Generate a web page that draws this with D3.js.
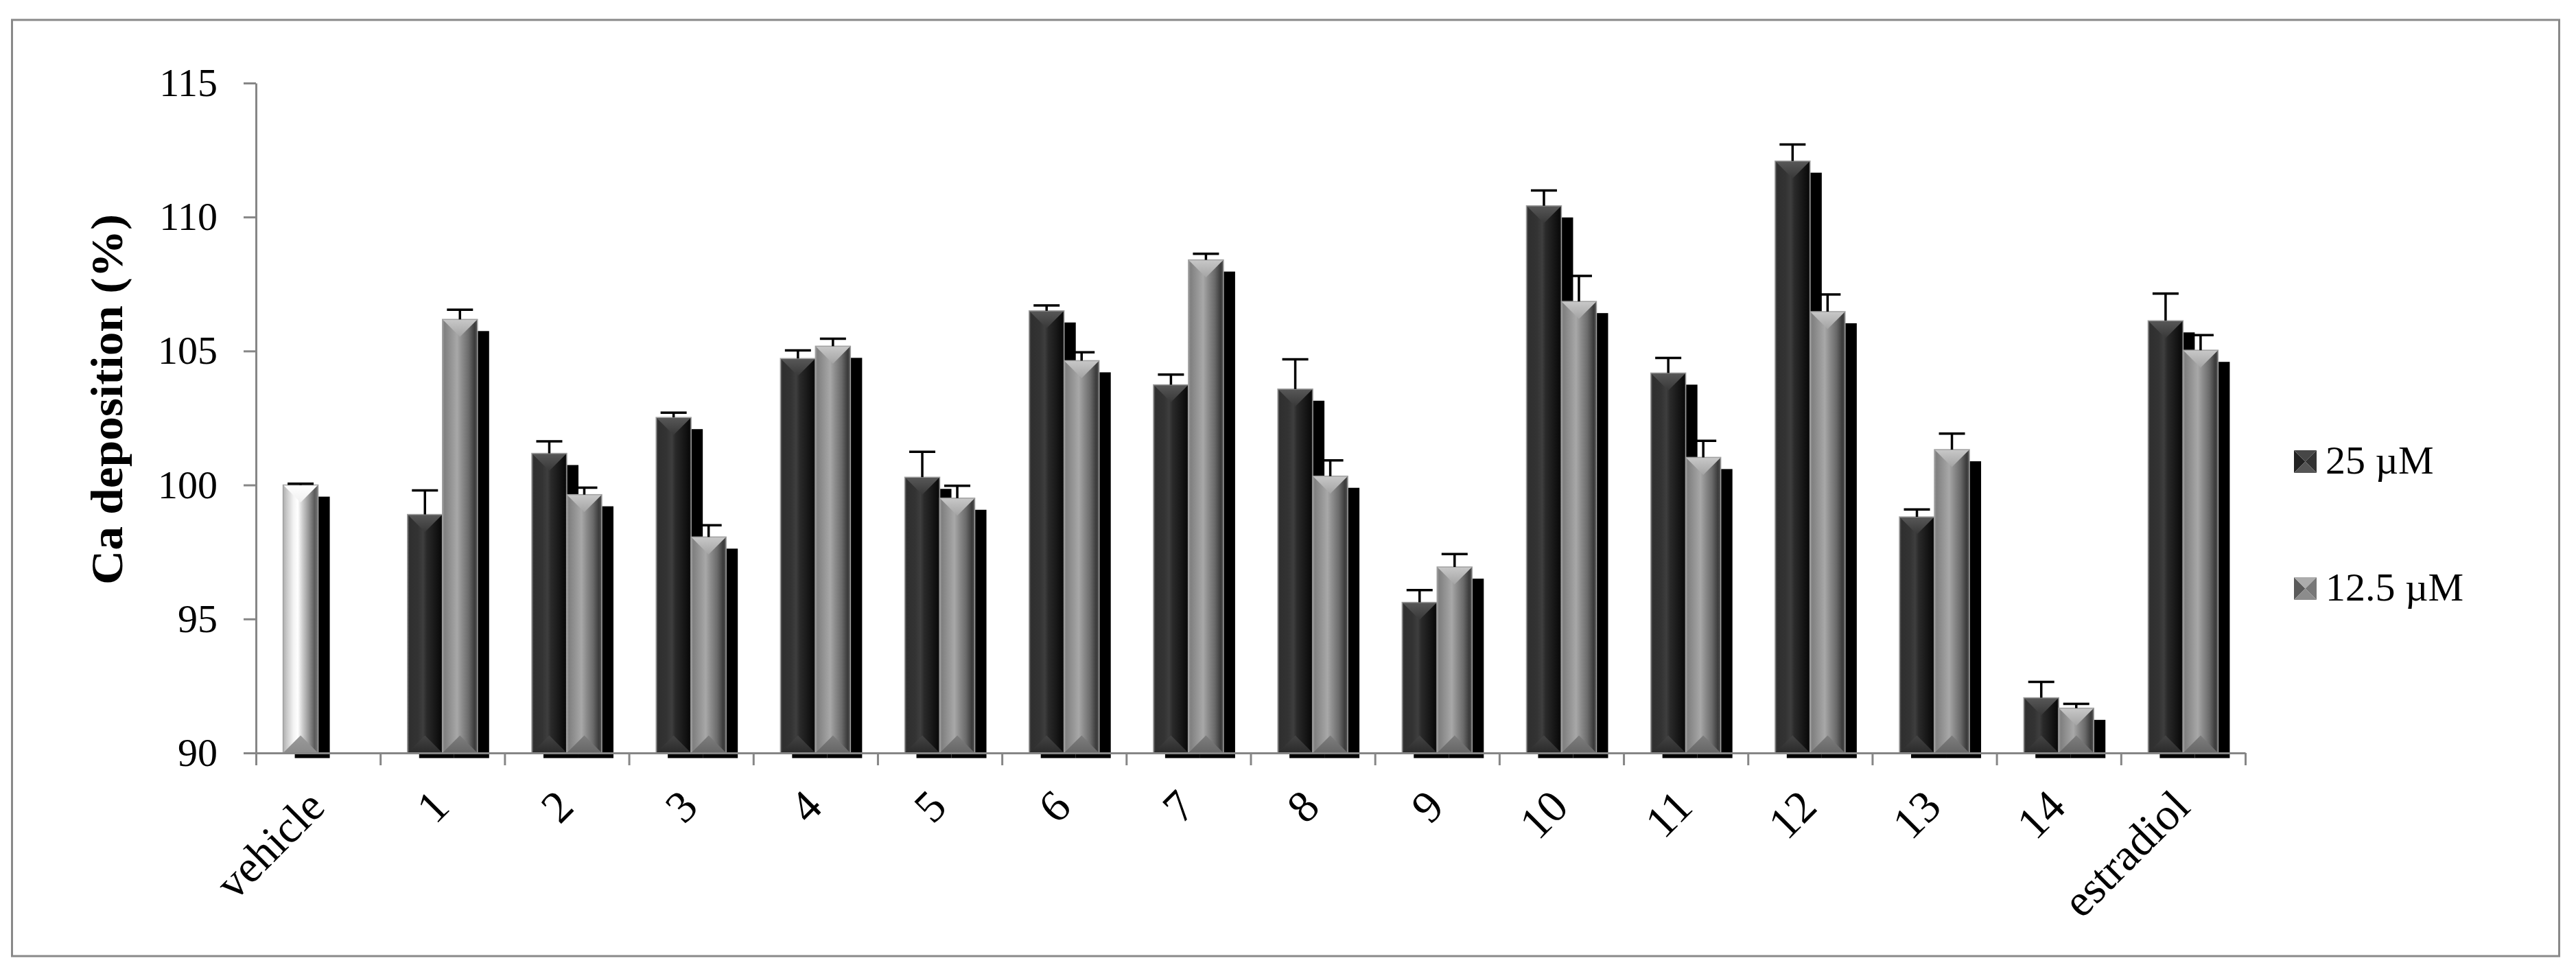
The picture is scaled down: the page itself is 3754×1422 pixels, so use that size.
<!DOCTYPE html>
<html>
<head>
<meta charset="utf-8">
<script src="https://cdn.jsdelivr.net/npm/d3@7"></script>
<style>
  body { margin: 0; background: #fff; }
  text { font-family: "Liberation Serif", "Times New Roman", serif; fill: #000; }
</style>
</head>
<body>
<script>
// Data
var categories = ["vehicle", "1", "2", "3", "4", "5", "6", "7", "8", "9", "10", "11", "12", "13", "14", "estradiol"];
var seriesNames = ["25 µM", "12.5 µM"];
var conc25 = [100.0, 98.9, 101.18, 102.52, 104.72, 100.29, 106.5, 103.74, 103.58, 95.62, 110.42, 104.18, 112.09, 98.81, 92.06, 106.13];
var err25 = [0.05, 0.9, 0.45, 0.18, 0.3, 0.95, 0.2, 0.38, 1.11, 0.46, 0.57, 0.56, 0.62, 0.28, 0.59, 1.01];
var conc12 = [null, 106.18, 99.64, 98.06, 105.18, 99.51, 104.64, 108.4, 100.33, 96.94, 106.85, 101.03, 106.47, 101.32, 91.67, 105.03];
var err12 = [null, 0.36, 0.26, 0.44, 0.28, 0.46, 0.31, 0.23, 0.59, 0.48, 0.95, 0.62, 0.64, 0.6, 0.16, 0.56];
var yTicks = [90, 95, 100, 105, 110, 115];

var width = 3754, height = 1422;
// plot area edges (window.top is reserved, so no plain "top")
var plotL = 373, plotR = 3272, plotT = 121, plotB = 1097;

var svg = d3.select("body").append("svg")
    .attr("width", width)
    .attr("height", height);

// outer chart frame
svg.append("rect")
    .attr("x", 17.5).attr("y", 29)
    .attr("width", 3712).attr("height", 1364)
    .attr("fill", "#fff")
    .attr("stroke", "#898989")
    .attr("stroke-width", 3);

var x = d3.scaleBand().domain(categories).range([plotL, plotR]).paddingInner(0);
var xs = d3.scaleBand().domain([0, 1]).range([0, x.bandwidth()]).paddingOuter(0.776).paddingInner(0);
var y = d3.scaleLinear().domain([90, 115]).range([plotB, plotT]);

// gradients for the bevelled bars
var defs = svg.append("defs");
function hGrad(id, stops) {
    var g = defs.append("linearGradient").attr("id", id)
        .attr("x1", "0%").attr("x2", "100%").attr("y1", "0%").attr("y2", "0%");
    stops.forEach(function (s) {
        g.append("stop").attr("offset", s[0]).attr("stop-color", s[1]);
    });
}
function vGrad(id, stops) {
    var g = defs.append("linearGradient").attr("id", id)
        .attr("x1", "0%").attr("x2", "0%").attr("y1", "0%").attr("y2", "100%");
    stops.forEach(function (s) {
        g.append("stop").attr("offset", s[0]).attr("stop-color", s[1]);
    });
}
hGrad("gDark", [[0, "#5a5a5a"], [0.06, "#2f2f2f"], [0.3, "#333"], [0.45, "#3e3e3e"], [0.55, "#2a2a2a"], [0.8, "#161616"], [0.95, "#0a0a0a"], [1, "#2a2a2a"]]);
hGrad("gGray", [[0, "#9a9a9a"], [0.06, "#808080"], [0.25, "#959595"], [0.42, "#a8a8a8"], [0.55, "#8e8e8e"], [0.75, "#6a6a6a"], [0.92, "#3a3a3a"], [1, "#555"]]);
hGrad("gVeh", [[0, "#b0b0b0"], [0.1, "#c8c8c8"], [0.3, "#f4f4f4"], [0.42, "#fff"], [0.55, "#cfcfcf"], [0.72, "#9a9a9a"], [0.9, "#5a5a5a"], [1, "#777"]]);
vGrad("tDark", [[0, "#585858"], [1, "#383838"]]);
vGrad("tGray", [[0, "#c8c8c8"], [1, "#a4a4a4"]]);
vGrad("tVeh", [[0, "#fff"], [1, "#f0f0f0"]]);
vGrad("bDark", [[0, "#444"], [1, "#2a2a2a"]]);
vGrad("bGray", [[0, "#7e7e7e"], [1, "#666"]]);
vGrad("bVeh", [[0, "#9a9a9a"], [1, "#8a8a8a"]]);

// flatten into bar records
var bars = [];
categories.forEach(function (c, i) {
    [conc25, conc12].forEach(function (arr, s) {
        var v = arr[i];
        if (v == null) return;
        var e = s === 0 ? err25[i] : err12[i];
        var kind = i === 0 ? "Veh" : (s === 0 ? "Dark" : "Gray");
        bars.push({cat: c, s: s, v: v, e: e, kind: kind});
    });
});

var bw = xs.bandwidth();
var off = 17;

svg.append("clipPath").attr("id", "shadowClip")
    .append("rect").attr("x", 0).attr("y", 0).attr("width", width).attr("height", plotB + 7.5);

// drop shadows behind every bar
svg.append("g").attr("clip-path", "url(#shadowClip)")
    .selectAll("rect")
    .data(bars)
    .enter()
    .append("rect")
    .attr("x", function (d) { return x(d.cat) + xs(d.s) + off; })
    .attr("y", function (d) { return y(d.v) + off; })
    .attr("width", bw)
    .attr("height", function (d) { return plotB - y(d.v); })
    .attr("fill", "#000");

var bar = svg.append("g").selectAll("g")
    .data(bars)
    .enter()
    .append("g")
    .attr("transform", function (d) { return "translate(" + (x(d.cat) + xs(d.s)) + ",0)"; });

bar.append("rect")
    .attr("x", 0)
    .attr("y", function (d) { return y(d.v); })
    .attr("width", bw)
    .attr("height", function (d) { return plotB - y(d.v); })
    .attr("fill", function (d) { return "url(#g" + d.kind + ")"; });

// top bevel facet
bar.append("path")
    .attr("d", function (d) {
        var t = y(d.v), h = Math.min(bw * 0.5, (plotB - t) / 2);
        return "M0," + t + "L" + bw + "," + t + "L" + bw / 2 + "," + (t + h) + "Z";
    })
    .attr("fill", function (d) { return "url(#t" + d.kind + ")"; });

// bottom bevel facet
bar.append("path")
    .attr("d", function (d) {
        var t = y(d.v), h = Math.min(bw * 0.5, (plotB - t) / 2);
        return "M0," + plotB + "L" + bw + "," + plotB + "L" + bw / 2 + "," + (plotB - h) + "Z";
    })
    .attr("fill", function (d) { return "url(#b" + d.kind + ")"; });

bar.append("rect")
    .attr("x", 0)
    .attr("y", function (d) { return y(d.v); })
    .attr("width", bw)
    .attr("height", function (d) { return plotB - y(d.v); })
    .attr("fill", "none")
    .attr("stroke", "#a0a0a0")
    .attr("stroke-width", 1.5);

// error bars (upper only)
var eb = svg.append("g").attr("stroke", "#000").attr("stroke-width", 3.5);
eb.selectAll("line.stem")
    .data(bars)
    .enter()
    .append("line")
    .attr("class", "stem")
    .attr("x1", function (d) { return x(d.cat) + xs(d.s) + bw / 2; })
    .attr("x2", function (d) { return x(d.cat) + xs(d.s) + bw / 2; })
    .attr("y1", function (d) { return y(d.v); })
    .attr("y2", function (d) { return y(d.v + d.e); });
eb.selectAll("line.cap")
    .data(bars)
    .enter()
    .append("line")
    .attr("class", "cap")
    .attr("x1", function (d) { return x(d.cat) + xs(d.s) + bw / 2 - 19; })
    .attr("x2", function (d) { return x(d.cat) + xs(d.s) + bw / 2 + 19; })
    .attr("y1", function (d) { return y(d.v + d.e); })
    .attr("y2", function (d) { return y(d.v + d.e); });

// y axis
var yAxis = svg.append("g")
    .attr("transform", "translate(" + plotL + ",0)")
    .call(d3.axisLeft(y).tickValues(yTicks).tickSize(18).tickSizeOuter(0).tickPadding(38));
yAxis.selectAll("path, line").attr("stroke", "#868686").attr("stroke-width", 3);
yAxis.selectAll("text")
    .style("font-family", "'Liberation Serif', 'Times New Roman', serif")
    .style("font-size", "58px")
    .attr("fill", "#000");

// x axis: ticks between categories
var xb = d3.scaleLinear().domain([0, categories.length]).range([plotL, plotR]);
var xAxisTicks = svg.append("g")
    .attr("transform", "translate(0," + plotB + ")")
    .call(d3.axisBottom(xb).tickValues(d3.range(categories.length + 1)).tickSize(18).tickSizeOuter(0).tickFormat(""));
xAxisTicks.selectAll("path, line").attr("stroke", "#868686").attr("stroke-width", 3);

// category labels, rotated
var xAxis = svg.append("g")
    .attr("transform", "translate(0," + plotB + ")")
    .call(d3.axisBottom(x).tickSize(0));
xAxis.select(".domain").remove();
xAxis.selectAll("text")
    .attr("x", 0).attr("y", 0).attr("dy", null)
    .attr("text-anchor", "end")
    .attr("transform", "translate(13,82) rotate(-45)")
    .style("font-family", "'Liberation Serif', 'Times New Roman', serif")
    .style("font-size", "66px")
    .attr("fill", "#000");

// y axis title
svg.append("text")
    .attr("transform", "translate(178,582) rotate(-90)")
    .attr("text-anchor", "middle")
    .attr("textLength", 540)
    .attr("lengthAdjust", "spacingAndGlyphs")
    .style("font-size", "66px")
    .style("font-weight", "bold")
    .text("Ca deposition (%)");

// legend
var legendY = [656, 841];
var legendCols = [
    {l: "#222", t: "#474747", r: "#333", b: "#555"},
    {l: "#5a5a5a", t: "#acacac", r: "#777", b: "#8c8c8c"}
];
var lg = svg.append("g").selectAll("g")
    .data(seriesNames)
    .enter()
    .append("g")
    .attr("transform", function (d, i) { return "translate(3343," + legendY[i] + ")"; });
var s = 33;
lg.append("path").attr("d", "M0,0L" + s / 2 + "," + s / 2 + "L0," + s + "Z").attr("fill", function (d, i) { return legendCols[i].l; });
lg.append("path").attr("d", "M0,0L" + s + ",0L" + s / 2 + "," + s / 2 + "Z").attr("fill", function (d, i) { return legendCols[i].t; });
lg.append("path").attr("d", "M" + s + ",0L" + s + "," + s + "L" + s / 2 + "," + s / 2 + "Z").attr("fill", function (d, i) { return legendCols[i].r; });
lg.append("path").attr("d", "M0," + s + "L" + s + "," + s + "L" + s / 2 + "," + s / 2 + "Z").attr("fill", function (d, i) { return legendCols[i].b; });
lg.append("text")
    .attr("x", 46)
    .attr("y", 34)
    .style("font-size", "58px")
    .text(function (d) { return d; });
</script>
</body>
</html>
